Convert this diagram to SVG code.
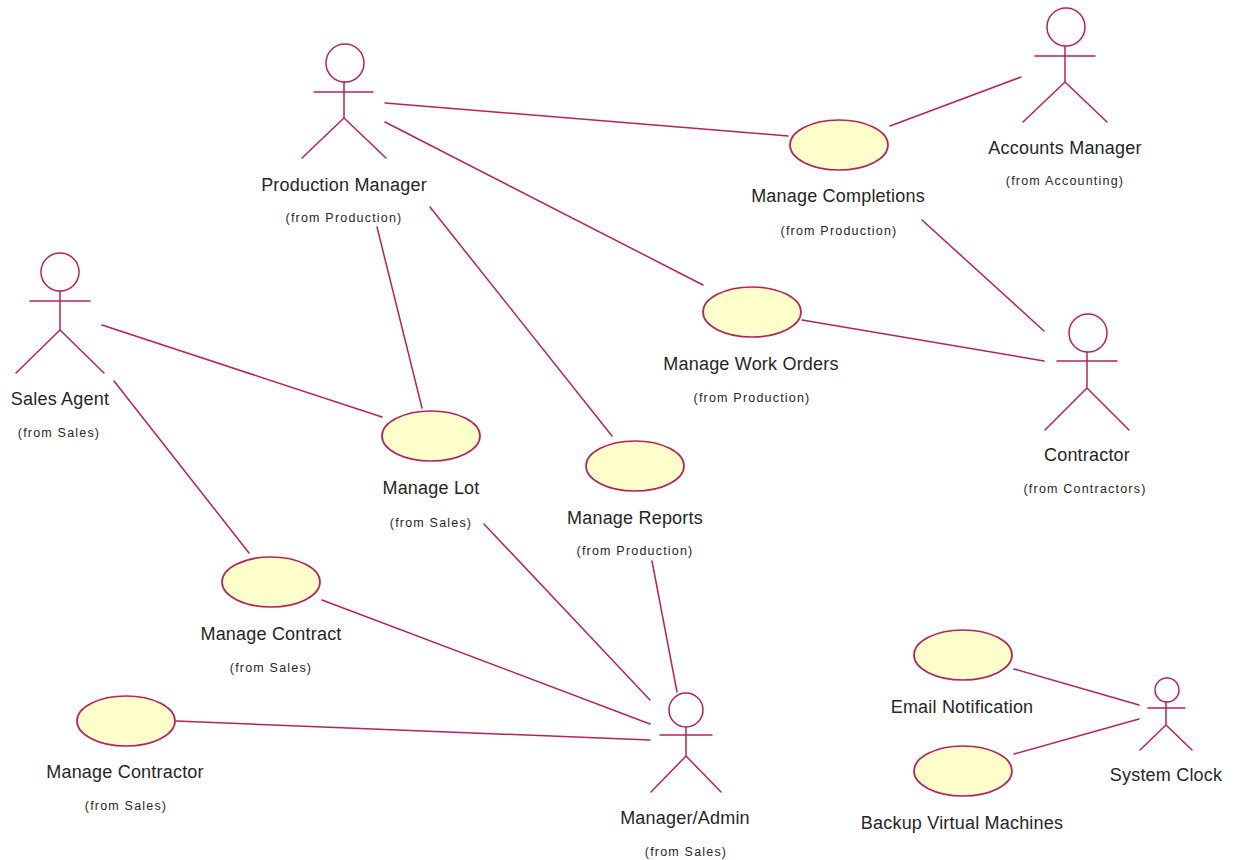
<svg xmlns="http://www.w3.org/2000/svg" width="1235" height="860" viewBox="0 0 1235 860">
<style>
.l{stroke:#b5235a;stroke-width:1.5;fill:none;stroke-linecap:round}
.h{stroke:#b5235a;stroke-width:1.5;fill:#fff}
.u{stroke:#b5235a;stroke-width:1.7;fill:#ffffcb}
.n{font:18px "Liberation Sans",Arial,sans-serif;fill:#262626;text-anchor:middle;letter-spacing:.2px}
.s{font:12.5px "Liberation Sans",Arial,sans-serif;fill:#262626;text-anchor:middle;letter-spacing:1.2px}
</style>
<rect width="1235" height="860" fill="#fff"/>
<g id="connectors" class="l">
<path d="M385 103L788 136"/><path d="M385 122L703 285"/><path d="M377 227L422 408"/><path d="M430 207L612 436"/>
<path d="M890 126L1021 77"/><path d="M922 220L1044 331"/><path d="M802 320L1044 361"/>
<path d="M102 325L382 417"/><path d="M114 381L249 553"/><path d="M322 600L650 724"/>
<path d="M484 524L650 700"/><path d="M652 561L677 692"/><path d="M176 721L650 740"/>
<path d="M1014 669L1139 705"/><path d="M1014 754L1139 719"/>
</g>
<g id="production-manager"><circle class="h" cx="345" cy="63" r="19"/><path class="l" d="M344 82V118M314 92H373M344 118L302 158M344 118L386 158"/><text class="n" x="344" y="191">Production Manager</text><text class="s" x="344" y="222">(from Production)</text></g>
<g id="accounts-manager"><circle class="h" cx="1066" cy="27" r="19"/><path class="l" d="M1065 46V82M1035 56H1095M1065 82L1023 122M1065 82L1107 122"/><text class="n" x="1065" y="154">Accounts Manager</text><text class="s" x="1065" y="185">(from Accounting)</text></g>
<g id="contractor"><circle class="h" cx="1088" cy="333" r="19"/><path class="l" d="M1087 352V388M1057 361H1117M1087 388L1045 430M1087 388L1129 430"/><text class="n" x="1087" y="461">Contractor</text><text class="s" x="1085" y="493">(from Contractors)</text></g>
<g id="sales-agent"><circle class="h" cx="60" cy="272" r="19"/><path class="l" d="M60 291V330M30 301H90M60 330L16 373M60 330L104 373"/><text class="n" x="60" y="405">Sales Agent</text><text class="s" x="59" y="437">(from Sales)</text></g>
<g id="manager-admin"><circle class="h" cx="686" cy="710" r="17"/><path class="l" d="M686 727V756M660 735H712M686 756L651 792M686 756L721 792"/><text class="n" x="685" y="824">Manager/Admin</text><text class="s" x="686" y="856">(from Sales)</text></g>
<g id="system-clock"><circle class="h" cx="1167" cy="690" r="12"/><path class="l" d="M1166 702V725M1148 708H1185M1166 725L1140 750M1166 725L1192 750"/><text class="n" x="1166" y="781">System Clock</text></g>
<g id="manage-completions"><ellipse class="u" cx="839" cy="145" rx="49" ry="25"/><text class="n" x="838" y="202">Manage Completions</text><text class="s" x="839" y="235">(from Production)</text></g>
<g id="manage-work-orders"><ellipse class="u" cx="752" cy="312" rx="49" ry="25"/><text class="n" x="751" y="370">Manage Work Orders</text><text class="s" x="752" y="402">(from Production)</text></g>
<g id="manage-lot"><ellipse class="u" cx="431" cy="436" rx="49" ry="25"/><text class="n" x="431" y="494">Manage Lot</text><text class="s" x="431" y="527">(from Sales)</text></g>
<g id="manage-reports"><ellipse class="u" cx="635" cy="466" rx="49" ry="25"/><text class="n" x="635" y="524">Manage Reports</text><text class="s" x="635" y="555">(from Production)</text></g>
<g id="manage-contract"><ellipse class="u" cx="271" cy="582" rx="49" ry="25"/><text class="n" x="271" y="640">Manage Contract</text><text class="s" x="271" y="672">(from Sales)</text></g>
<g id="manage-contractor"><ellipse class="u" cx="126" cy="721" rx="49" ry="25"/><text class="n" x="125" y="778">Manage Contractor</text><text class="s" x="126" y="810">(from Sales)</text></g>
<g id="email-notification"><ellipse class="u" cx="963" cy="655" rx="49" ry="25"/><text class="n" x="962" y="713">Email Notification</text></g>
<g id="backup-virtual-machines"><ellipse class="u" cx="963" cy="771" rx="49" ry="25"/><text class="n" x="962" y="829">Backup Virtual Machines</text></g>
</svg>
